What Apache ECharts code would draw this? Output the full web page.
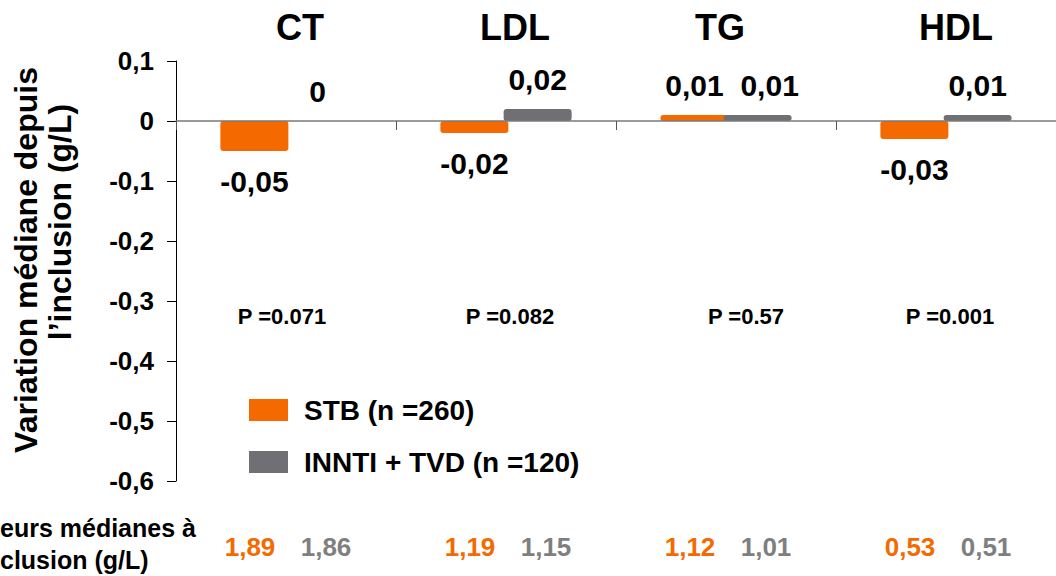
<!DOCTYPE html>
<html>
<head>
<meta charset="utf-8">
<script src="https://cdn.jsdelivr.net/npm/echarts@6/dist/echarts.min.js"></script>
<style>
html,body{margin:0;padding:0;background:#fff;}
#main{width:1056px;height:576px;}
</style>
</head>
<body>
<div id="main"></div>
<script>
// ---- data ----
const categories = ['CT', 'LDL', 'TG', 'HDL'];
const seriesNames = ['STB (n =260)', 'INNTI + TVD (n =120)'];
const stbChange = [-0.05, -0.02, 0.01, -0.03];
const inntiChange = [0, 0.02, 0.01, 0.01];
const pValues = ['P =0.071', 'P =0.082', 'P =0.57', 'P =0.001'];
const stbBaseline = ['1,89', '1,19', '1,12', '0,53'];
const inntiBaseline = ['1,86', '1,15', '1,01', '0,51'];
const yMin = -0.6, yMax = 0.1, yStep = 0.1;
const yTitleLines = ['Variation médiane depuis', 'l’inclusion (g/L)'];
// the reference shows this row title cut by the left edge; only its visible part is kept
const baselineTitleLines = ['eurs médianes à', 'clusion (g/L)'];

// ---- style ----
const FONT = '"Liberation Sans", Arial, sans-serif';
const ORANGE = '#F46A00';
const GRAY = '#707074';
const GRAY_TEXT = '#7F7F7F';
const titleShift = [28, 18, -12, 20];
const pShift = [-4, 4, 20, 4];
const grayLabelShift = [0, 0, 12, 0];

function fmt(v) {
  if (Math.abs(v) < 1e-9) return '0';
  return String(v).replace('.', ',');
}

function barData(values, shifts) {
  return values.map(function (v, i) {
    const item = {
      value: v,
      label: { position: v < 0 ? 'bottom' : 'top', distance: 15, offset: [shifts ? shifts[i] : 0, 0] }
    };
    if (v === 0) {
      item.itemStyle = { color: 'transparent' };
    }
    return item;
  });
}

const labelStyle = {
  show: true,
  fontFamily: FONT,
  fontWeight: 'bold',
  fontSize: 30,
  color: '#000',
  formatter: function (p) { return fmt(p.value); }
};

const chart = echarts.init(document.getElementById('main'), null, { renderer: 'svg' });

const option = {
  backgroundColor: '#fff',
  animation: false,
  grid: { left: 176, top: 61, width: 889, height: 420, containLabel: false },
  legend: {
    data: seriesNames,
    orient: 'vertical',
    left: 244,
    top: 391,
    itemWidth: 39,
    itemHeight: 22,
    itemGap: 24,
    icon: 'rect',
    textStyle: { fontFamily: FONT, fontWeight: 'bold', fontSize: 28, color: '#000', padding: [0, 0, 0, 11] }
  },
  xAxis: [
    {
      type: 'category',
      data: categories,
      position: 'bottom',
      z: 5,
      axisLine: { onZero: true, lineStyle: { color: '#7a7a7a', width: 1.5 } },
      axisTick: { show: true, length: 9, lineStyle: { color: '#555', width: 1 } },
      axisLabel: { show: false },
      splitLine: { show: false }
    },
    {
      type: 'category',
      data: categories.map(function (c, i) {
        return { value: c, textStyle: { padding: titleShift[i] > 0 ? [0, 0, 0, titleShift[i]] : [0, -titleShift[i], 0, 0] } };
      }),
      position: 'top',
      axisLine: { show: false },
      axisTick: { show: false },
      axisLabel: { fontFamily: FONT, fontWeight: 'bold', fontSize: 36, color: '#000', margin: 16 },
      splitLine: { show: false }
    }
  ],
  yAxis: {
    type: 'value',
    min: yMin,
    max: yMax,
    interval: yStep,
    axisLine: { show: true, lineStyle: { color: '#000', width: 1 } },
    axisTick: { show: true, length: 9, lineStyle: { color: '#000', width: 1 } },
    axisLabel: {
      fontFamily: FONT, fontWeight: 'bold', fontSize: 26, color: '#000', margin: 22,
      formatter: function (v) {
        if (Math.abs(v) < 1e-9) return '0';
        return v.toFixed(1).replace('.', ',');
      }
    },
    splitLine: { show: false }
  },
  series: [
    {
      name: seriesNames[0],
      type: 'bar',
      data: barData(stbChange),
      barWidth: 68,
      barGap: '-7%',
      itemStyle: { color: ORANGE, borderRadius: 3 },
      label: labelStyle
    },
    {
      name: seriesNames[1],
      type: 'bar',
      data: barData(inntiChange, grayLabelShift),
      barWidth: 68,
      barGap: '-7%',
      itemStyle: { color: GRAY, borderRadius: 3 },
      label: labelStyle
    }
  ]
};

chart.setOption(option);

// ---- annotations placed through the chart's own scales ----
const graphics = [];
const textBase = { fontFamily: FONT, fontWeight: 'bold' };

// y axis title (two lines, rotated)
const yTitlePos = [[26, 260], [60, 222]];
yTitleLines.forEach(function (t, i) {
  graphics.push({
    type: 'text', x: yTitlePos[i][0], y: yTitlePos[i][1], rotation: Math.PI / 2,
    style: Object.assign({ text: t, fontSize: 32, fill: '#000', align: 'center', verticalAlign: 'middle' }, textBase)
  });
});

// baseline row title
baselineTitleLines.forEach(function (t, i) {
  graphics.push({
    type: 'text', x: 0, y: 528 + i * 32,
    style: Object.assign({ text: t, fontSize: 25, fill: '#000', align: 'left', verticalAlign: 'middle' }, textBase)
  });
});

const pY = chart.convertToPixel({ yAxisIndex: 0 }, -0.325);
categories.forEach(function (c, i) {
  const cx = chart.convertToPixel({ xAxisIndex: 0 }, c);
  graphics.push({
    type: 'text', x: cx + pShift[i], y: pY,
    style: Object.assign({ text: pValues[i], fontSize: 22, fill: '#000', align: 'center', verticalAlign: 'middle' }, textBase)
  });
  graphics.push({
    type: 'text', x: cx - 36, y: 547,
    style: Object.assign({ text: stbBaseline[i], fontSize: 26, fill: ORANGE, align: 'center', verticalAlign: 'middle' }, textBase)
  });
  graphics.push({
    type: 'text', x: cx + 40, y: 547,
    style: Object.assign({ text: inntiBaseline[i], fontSize: 26, fill: GRAY_TEXT, align: 'center', verticalAlign: 'middle' }, textBase)
  });
});

chart.setOption({ graphic: graphics });
</script>
</body>
</html>
